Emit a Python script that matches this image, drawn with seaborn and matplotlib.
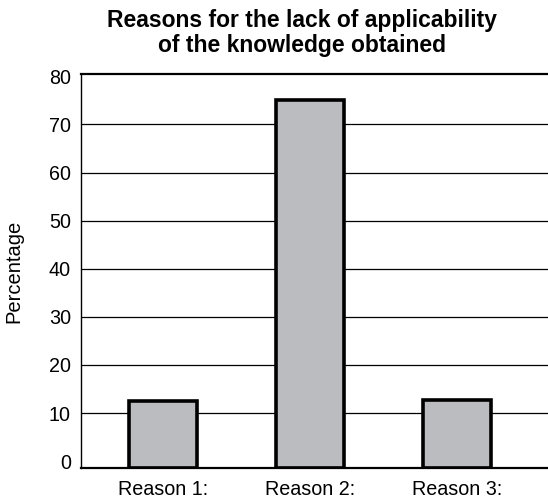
import matplotlib
matplotlib.use("Agg")
import matplotlib.pyplot as plt
import seaborn as sns
import pandas as pd

reasons = ["Reason 1:", "Reason 2:", "Reason 3:"]
percentages = [12.4, 75.0, 12.8]
y_ticks = [0, 10, 20, 30, 40, 50, 60, 70, 80]

sns.set_style("white")
plt.rcParams["font.family"] = ["Liberation Sans", "DejaVu Sans"]
plt.rcParams.update({"text.color": "black", "axes.labelcolor": "black",
                     "xtick.color": "black", "ytick.color": "black"})

df = pd.DataFrame({"reason": reasons, "pct": percentages})

fig = plt.figure(figsize=(5.48, 5.01), dpi=100)
ax = fig.add_axes([80.7 / 548, 1 - 468.3 / 501, 1 - 80.7 / 548, (468.3 - 74) / 501])

# horizontal reference lines behind the bars
for t in y_ticks[1:-1]:
    ax.axhline(t, color="black", linewidth=0.9, zorder=0)

sns.barplot(data=df, x="reason", y="pct", color="#bbbcc0", saturation=1,
            width=0.465, edgecolor="black", linewidth=2.6, ax=ax, zorder=2)

# bars rise from the bottom of the plotting area
for p in ax.patches:
    top = p.get_y() + p.get_height()
    p.set_y(-1.5)
    p.set_height(top + 1.5)

ax.set_ylim(-1.5, 80.5)
ax.set_xlim(-0.56, 2.62)
ax.set_yticks(y_ticks)
ax.tick_params(axis="both", length=0, labelsize=14.2, labelcolor="black")
ax.tick_params(axis="y", pad=7)
ax.tick_params(axis="x", pad=8.5)
ax.set_xlabel("")
ax.set_ylabel("Percentage", fontsize=14.5, labelpad=18, color="black")

ax.spines["right"].set_visible(False)
ax.spines["left"].set_linewidth(1.0)
ax.spines["top"].set_linewidth(1.6)
ax.spines["bottom"].set_linewidth(1.6)
for s in ["left", "top", "bottom"]:
    ax.spines[s].set_color("black")

fig.text(302 / 548, 1 - 33 / 501,
         "Reasons for the lack of applicability\nof the knowledge obtained",
         ha="center", va="center", fontsize=16.5, fontweight="bold",
         linespacing=1.1, color="black")

fig.savefig("out.png", dpi=100)
